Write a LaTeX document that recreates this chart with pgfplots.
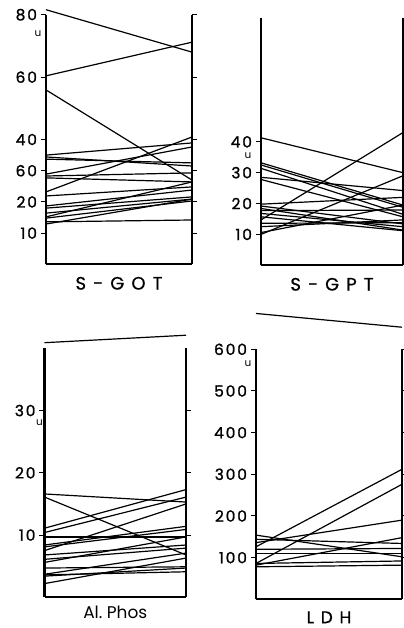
\documentclass[border=0pt]{standalone}
\usepackage{fontspec}
\setmainfont{Poppins}
\newfontfamily\tickfont[LetterSpace=12, FakeBold=1.2]{Poppins}
\newfontfamily\titlefont[LetterSpace=40, FakeBold=0.8]{Poppins}
\usepackage{pgfplots}
\pgfplotsset{compat=1.18}
\pgfplotsset{panel/.style={
  scale only axis, anchor=south west,
  xmin=0, xmax=1, ymin=0,
  axis x line*=bottom, axis y line*=box,
  xtick=\empty, tick align=outside, yticklabel pos=left,
  clip=false,
  every axis plot post/.append style={black, solid, mark=none, line width=1.2bp},
  y axis line style={line width=2.6bp},
  x axis line style={line width=2bp},
  ytick style={line width=1bp, black},
  major tick length=5bp,
  yticklabel style={font=\tickfont\fontsize{15.5}{17}\selectfont, xshift=-0.5bp},
  /pgf/number format/assume math mode=true,
  xlabel style={at={(axis description cs:0.5,0)}, anchor=center, inner sep=0pt, font=\titlefont\fontsize{18}{20}\selectfont},
}}
\begin{document}
\begin{tikzpicture}
\path[use as bounding box] (0bp,0bp) rectangle (404bp,628bp);
% ---------------- S-GOT
\begin{axis}[panel, at={(46bp,363.7bp)}, width=146bp, height=249.6bp, ymax=80,
  ytick={10,20,30,40,60,80}, yticklabels={10,20,60,40,60,80},
  xlabel={S-GOT}, xlabel style={yshift=-19bp}]
\addplot coordinates {(0,81.6) (1,68.0)};
\addplot coordinates {(0,60.4) (1,71.2)};
\addplot coordinates {(0,55.9) (1,27.0)};
\addplot coordinates {(0,35.0) (1,38.9)};
\addplot coordinates {(0,34.4) (1,31.5)};
\addplot coordinates {(0,33.7) (1,32.5)};
\addplot coordinates {(0,28.9) (1,37.6)};
\addplot coordinates {(0,28.3) (1,29.3)};
\addplot coordinates {(0,27.7) (1,26.4)};
\addplot coordinates {(0,23.2) (1,40.8)};
\addplot coordinates {(0,21.9) (1,24.8)};
\addplot coordinates {(0,18.7) (1,23.8)};
\addplot coordinates {(0,18.0) (1,21.6)};
\addplot coordinates {(0,16.4) (1,20.9)};
\addplot coordinates {(0,15.2) (1,26.4)};
\addplot coordinates {(0,14.8) (1,20.3)};
\addplot coordinates {(0,13.6) (1,14.2)};
\addplot coordinates {(0,12.9) (1,20.9)};
\node[font=\fontsize{10.5}{12}\selectfont, xshift=-8bp] at (axis cs:0,74) {u};
\end{axis}
% ---------------- S-GPT
\begin{axis}[panel, at={(261bp,362.7bp)}, width=142bp, height=247bp, ymax=80,
  ytick={10,20,30,40},
  xlabel={S-GPT}, xlabel style={yshift=-19bp}]
\addplot coordinates {(0,41.3) (1,30.0)};
\addplot coordinates {(0,33.2) (1,19.5)};
\addplot coordinates {(0,32.5) (1,18.8)};
\addplot coordinates {(0,31.4) (1,16.5)};
\addplot coordinates {(0,28.5) (1,24.2)};
\addplot coordinates {(0,27.8) (1,15.7)};
\addplot coordinates {(0,14.7) (1,43.0)};
\addplot coordinates {(0,19.8) (1,22.0)};
\addplot coordinates {(0,10.0) (1,29.0)};
\addplot coordinates {(0,19.2) (1,13.4)};
\addplot coordinates {(0,18.4) (1,11.4)};
\addplot coordinates {(0,17.7) (1,17.9)};
\addplot coordinates {(0,16.8) (1,12.5)};
\addplot coordinates {(0,15.7) (1,11.2)};
\addplot coordinates {(0,13.6) (1,13.8)};
\addplot coordinates {(0,12.5) (1,14.7)};
\addplot coordinates {(0,10.6) (1,19.5)};
\node[font=\fontsize{10.5}{12}\selectfont, xshift=-13bp] at (axis cs:0,35.6) {u};
\end{axis}
% ---------------- Al. Phos
\begin{axis}[panel, at={(44.5bp,30.7bp)}, width=141.5bp, height=249bp, ymax=40,
  ytick={10,20,30},
  xlabel={Al.\ Phos}, xlabel style={yshift=-15bp, font=\fontsize{17}{19}\selectfont}]
\addplot coordinates {(0,40.9) (1,42.1)};
\addplot coordinates {(0,16.6) (1,15.3)};
\addplot coordinates {(0,16.1) (1,6.8)};
\addplot coordinates {(0,11.1) (1,17.3)};
\addplot coordinates {(0,10.4) (1,16.1)};
\addplot coordinates {(0,9.7) (1,9.7)};
\addplot coordinates {(0,8.4) (1,11.4)};
\addplot coordinates {(0,8.1) (1,10.9)};
\addplot coordinates {(0,7.5) (1,15.0)};
\addplot coordinates {(0,6.8) (1,8.4)};
\addplot coordinates {(0,6.1) (1,7.9)};
\addplot coordinates {(0,5.6) (1,9.7)};
\addplot coordinates {(0,4.7) (1,4.9)};
\addplot coordinates {(0,3.7) (1,7.1)};
\addplot coordinates {(0,3.4) (1,4.7)};
\addplot coordinates {(0,3.6) (1,4.1)};
\addplot coordinates {(0,2.2) (1,6.3)};
\node[font=\fontsize{10.5}{12}\selectfont, xshift=-5bp] at (axis cs:0,28.0) {u};
\end{axis}
% ---------------- LDH
\begin{axis}[panel, at={(256bp,28.7bp)}, width=146bp, height=250bp, ymax=600,
  ytick={100,200,300,400,500,600},
  xlabel={LDH}, xlabel style={yshift=-18bp, font=\titlefont\fontsize{17}{19}\selectfont}]
\addplot coordinates {(0,686) (1,653)};
\addplot coordinates {(0,126) (1,312)};
\addplot coordinates {(0,86) (1,276)};
\addplot coordinates {(0,136) (1,190)};
\addplot coordinates {(0,154) (1,102)};
\addplot coordinates {(0,144) (1,134)};
\addplot coordinates {(0,110) (1,110)};
\addplot coordinates {(0,82) (1,148)};
\addplot coordinates {(0,78) (1,82)};
\addplot coordinates {(0,120) (1,122)};
\addplot coordinates {(0,86) (1,92)};
\node[font=\fontsize{10.5}{12}\selectfont, xshift=-8bp] at (axis cs:0,565) {u};
\end{axis}
\end{tikzpicture}
\end{document}
